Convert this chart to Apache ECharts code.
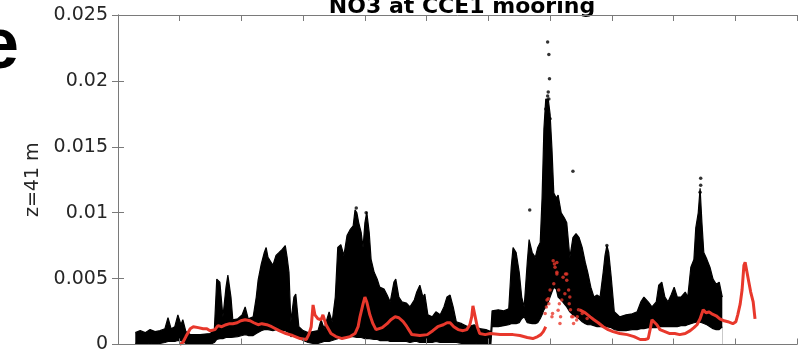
<!DOCTYPE html>
<html>
<head>
<meta charset="utf-8">
<script src="https://cdn.jsdelivr.net/npm/echarts@6/dist/echarts.min.js"></script>
<style>
html,body{margin:0;padding:0;background:#fff;}
#chart{width:805px;height:354px;}
</style>
</head>
<body>
<div id="chart"></div>
<script>
// ---- data (x in years from start of record, y = NO3) ----
const yTicks = [0, 0.005, 0.01, 0.015, 0.02, 0.025];

// black cloud envelope: x, lower edge, upper edge
const blackX = [0.28,0.36,0.44,0.52,0.60,0.68,0.76,0.81,0.86,0.92,0.97,1.02,1.05,1.10,1.17,1.33,1.49,1.56,1.60,1.65,1.70,1.75,1.78,1.83,1.86,1.94,2.01,2.06,2.11,2.19,2.24,2.27,2.32,2.37,2.40,2.43,2.46,2.51,2.56,2.61,2.66,2.71,2.74,2.77,2.80,2.85,2.88,2.93,3.00,3.08,3.16,3.24,3.29,3.34,3.42,3.47,3.52,3.56,3.61,3.66,3.71,3.76,3.81,3.84,3.87,3.90,3.94,3.97,4.00,4.03,4.07,4.10,4.15,4.20,4.24,4.31,4.36,4.41,4.47,4.50,4.55,4.60,4.67,4.73,4.80,4.84,4.89,4.94,4.97,5.02,5.09,5.15,5.22,5.28,5.33,5.38,5.43,5.48,5.57,5.67,5.77,5.86,5.96,6.04,6.06,6.16,6.25,6.33,6.37,6.40,6.45,6.50,6.54,6.58,6.63,6.66,6.71,6.76,6.80,6.84,6.87,6.90,6.93,6.97,7.00,7.03,7.06,7.10,7.13,7.18,7.23,7.27,7.32,7.37,7.42,7.47,7.52,7.57,7.61,7.66,7.71,7.76,7.81,7.86,7.89,7.92,7.95,7.99,8.04,8.13,8.23,8.33,8.41,8.47,8.52,8.59,8.65,8.72,8.76,8.81,8.86,8.91,8.96,9.01,9.06,9.12,9.19,9.23,9.28,9.33,9.36,9.40,9.43,9.46,9.49,9.54,9.59,9.64,9.69,9.74,9.77,9.79];
const blackLow = [0.00008,0,0,0.00008,0,0.00008,0.00015,0.00023,0.00023,0.00023,0.0003,0.0003,0.0003,0.00008,0,0,0,0.00015,0.00038,0.00045,0.00045,0.00053,0.00053,0.00053,0.0006,0.0006,0.00068,0.00075,0.00068,0.00068,0.00083,0.00098,0.00105,0.00113,0.00113,0.00113,0.00105,0.00105,0.00113,0.00113,0.00105,0.00105,0.00098,0.0009,0.0006,0.00068,0.00068,0.00053,0.0003,0.00015,0.00008,0.00008,0.00015,0.00023,0.00023,0.0003,0.00038,0.00045,0.00053,0.00053,0.0006,0.0006,0.0006,0.0006,0.00053,0.00053,0.00053,0.00045,0.00045,0.00045,0.00045,0.00038,0.00038,0.00038,0.0003,0.0003,0.0003,0.00023,0.00023,0.00023,0.00023,0.00023,0.00023,0.00015,0.00023,0.00023,0.00015,0.00015,0.00015,0.00015,0.00015,0.00023,0.00015,0.00015,0.00015,0.00015,0.00015,0.00015,0.00008,0.00008,0.00008,0,0,0,0.00135,0.00135,0.00143,0.0015,0.00158,0.00158,0.00158,0.00165,0.00195,0.0021,0.00165,0.00158,0.00158,0.00158,0.00165,0.00195,0.00225,0.00263,0.00285,0.00323,0.0036,0.00398,0.00435,0.0042,0.0036,0.00338,0.00308,0.00285,0.00248,0.00225,0.0021,0.00195,0.00173,0.00158,0.0015,0.0015,0.00143,0.00135,0.00135,0.00135,0.00135,0.00135,0.00135,0.00128,0.00113,0.00105,0.00105,0.00113,0.00113,0.0012,0.0012,0.00128,0.00128,0.00128,0.00135,0.00135,0.00135,0.00135,0.00135,0.00135,0.00135,0.00143,0.00143,0.0015,0.00158,0.00165,0.00173,0.00173,0.00173,0.00165,0.00158,0.0015,0.00135,0.0012,0.00113,0.00113,0.0012,0.00135];
const blackHigh = [0.0009,0.00105,0.0009,0.00113,0.00098,0.00105,0.0012,0.00203,0.0012,0.00135,0.00225,0.0015,0.00188,0.00098,0.00075,0.00075,0.00083,0.00105,0.00496,0.00473,0.0021,0.00435,0.00526,0.0036,0.00188,0.00195,0.00225,0.00285,0.00195,0.0021,0.0036,0.00488,0.00608,0.00698,0.00736,0.00661,0.00646,0.00601,0.00676,0.00698,0.00721,0.00751,0.00661,0.00548,0.00173,0.0036,0.00383,0.00135,0.00105,0.0009,0.00098,0.00105,0.00188,0.0012,0.00248,0.00173,0.0036,0.00736,0.00758,0.00676,0.00826,0.00871,0.00901,0.01021,0.00999,0.00923,0.00848,0.00736,0.00923,0.01006,0.00848,0.00646,0.00548,0.00496,0.00435,0.0042,0.00375,0.00323,0.00473,0.00496,0.0036,0.00323,0.00315,0.00285,0.00338,0.00398,0.0045,0.0036,0.00383,0.00225,0.0021,0.00248,0.00225,0.00285,0.0036,0.00375,0.00285,0.00173,0.00158,0.00135,0.0015,0.0012,0.00113,0.00098,0.00255,0.00263,0.00255,0.0027,0.00586,0.00736,0.00698,0.00548,0.0036,0.00285,0.00623,0.00796,0.00698,0.00661,0.00736,0.00773,0.01111,0.01637,0.01862,0.01862,0.01749,0.01487,0.01149,0.01111,0.01134,0.00999,0.00961,0.00923,0.00661,0.00811,0.00841,0.00811,0.00736,0.00623,0.00548,0.00435,0.0036,0.00375,0.0036,0.00548,0.00676,0.00751,0.00698,0.00511,0.00248,0.0021,0.00225,0.00233,0.00248,0.00323,0.0036,0.00323,0.00285,0.00323,0.0045,0.00473,0.0036,0.00323,0.00375,0.00435,0.0036,0.0036,0.00398,0.0036,0.00586,0.00646,0.00886,0.00999,0.01186,0.00923,0.00698,0.00646,0.00586,0.00496,0.00458,0.00473,0.00481,0.0036];

// isolated black points above the cloud
const blackDotsX = [6.96,6.98,6.99,6.97,6.96,6.98,6.93,7.00,7.37,6.67,9.44,9.44,9.43,3.86,4.02,7.92];
const blackDotsY = [0.02295,0.0220,0.02017,0.01915,0.01885,0.01862,0.01787,0.01712,0.01314,0.01021,0.01261,0.01209,0.01156,0.01036,0.00999,0.00751];

// red record, first continuous stretch
const red1X = [1.00,1.05,1.10,1.17,1.22,1.30,1.38,1.44,1.49,1.52,1.57,1.62,1.68,1.75,1.81,1.86,1.93,1.99,2.06,2.09,2.14,2.20,2.27,2.33,2.41,2.49,2.61,2.72,2.83,2.95,3.05,3.09,3.13,3.16,3.19,3.24,3.29,3.32,3.37,3.45,3.53,3.63,3.76,3.84,3.89,3.92,3.97,4.00,4.03,4.08,4.13,4.18,4.21,4.28,4.36,4.42,4.49,4.55,4.62,4.68,4.73,4.76,4.89,5.01,5.10,5.18,5.27,5.33,5.38,5.44,5.51,5.59,5.65,5.70,5.73,5.75,5.78,5.82,5.86,5.95,6.03,6.19,6.40,6.51,6.63,6.72,6.80,6.85,6.89,6.92,6.93];
const red1Y = [0,0.00015,0.0006,0.0012,0.00135,0.00128,0.0012,0.0012,0.00105,0.0009,0.00113,0.00143,0.00135,0.0015,0.00158,0.00158,0.00165,0.0018,0.00188,0.00203,0.0018,0.00165,0.0015,0.00158,0.0015,0.00135,0.00105,0.00083,0.00068,0.00045,0.00038,0.00075,0.00135,0.003,0.00225,0.00195,0.00188,0.00225,0.0015,0.00083,0.0006,0.00045,0.0006,0.00083,0.00135,0.0021,0.00308,0.0036,0.00323,0.00225,0.00158,0.00113,0.00098,0.00128,0.00158,0.00188,0.0021,0.00203,0.00173,0.00135,0.00098,0.00075,0.00068,0.00075,0.00105,0.00135,0.0015,0.00165,0.00165,0.00135,0.00113,0.00105,0.00113,0.0015,0.0021,0.00293,0.00225,0.00135,0.00083,0.00075,0.00083,0.00075,0.00075,0.00068,0.00053,0.00045,0.0006,0.00075,0.00098,0.00113,0.00135];
// red record, scattered points around the big peak
const redScatX = [6.92,6.95,6.98,7.00,7.03,7.06,7.07,7.11,7.11,7.14,7.15,7.17,7.19,7.25,7.27,7.30,7.31,7.33,7.35,7.38,7.44,7.46,7.52,7.60,6.94,6.97,7.05,7.08,7.11,7.21,7.27,7.24,7.32,7.37,7.43,7.04,7.13,7.16];
const redScatY = [0.00235,0.00338,0.0031,0.00413,0.0021,0.0046,0.0061,0.00623,0.00535,0.00413,0.0031,0.0021,0.00338,0.00535,0.00488,0.00413,0.0031,0.00263,0.0021,0.0016,0.0021,0.00263,0.00235,0.00197,0.00285,0.00348,0.00636,0.00586,0.00548,0.00511,0.00535,0.00385,0.0036,0.0021,0.00185,0.00235,0.0026,0.0016];
// red record, second continuous stretch
const red2X = [7.48,7.57,7.65,7.71,7.78,7.86,7.94,8.02,8.13,8.25,8.36,8.46,8.54,8.59,8.62,8.65,8.68,8.73,8.78,8.86,8.94,9.02,9.10,9.19,9.27,9.33,9.38,9.43,9.48,9.53,9.57,9.62,9.69,9.75,9.82,9.88,9.96,10.01,10.04,10.08,10.11,10.14,10.16,10.19,10.22,10.25,10.29,10.32];
const red2Y = [0.00263,0.0024,0.0021,0.00188,0.00165,0.00135,0.00113,0.00098,0.00083,0.00075,0.0006,0.00038,0.00038,0.00045,0.00113,0.00188,0.00188,0.0015,0.00113,0.00098,0.00083,0.00083,0.00075,0.00083,0.00105,0.00128,0.0015,0.00195,0.00263,0.0024,0.00248,0.00233,0.00218,0.00195,0.0018,0.00173,0.00158,0.00173,0.00225,0.00308,0.00413,0.00601,0.00623,0.00548,0.00473,0.00398,0.00323,0.00195];

// ---- build ----
const zip = (a, b) => a.map((v, i) => [v, b[i]]);
const RED = '#e8382c';
const AX = '#7a7a7a';
const LBL = '#262626';
const FONT = 'DejaVu Sans';

const chart = echarts.init(document.getElementById('chart'), null, {renderer: 'canvas'});
const tickCommon = {show: true, inside: true, length: 6, lineStyle: {color: AX, width: 1}};
chart.setOption({
  animation: false,
  backgroundColor: '#fff',
  title: {
    text: 'NO3 at CCE1 mooring',
    left: 457, top: -9, textAlign: 'center',
    textStyle: {fontFamily: FONT, fontWeight: 'bold', fontSize: 22, color: '#000'}
  },
  graphic: [{
    type: 'text', x: -21, y: 12,
    style: {text: 'e', font: 'bold 72px "Liberation Sans"', fill: '#000'}
  }],
  grid: {left: 118, right: 8, top: 15, bottom: 6, containLabel: false},
  xAxis: [{
    type: 'value', min: 0, max: 11, interval: 1, position: 'bottom', z: 10,
    axisLine: {show: true, onZero: false, lineStyle: {color: AX, width: 1}},
    axisTick: tickCommon, axisLabel: {show: false}, splitLine: {show: false}
  }, {
    type: 'value', min: 0, max: 11, interval: 1, position: 'top', z: 10,
    axisLine: {show: true, onZero: false, lineStyle: {color: AX, width: 1}},
    axisTick: tickCommon, axisLabel: {show: false}, splitLine: {show: false}
  }],
  yAxis: [{
    type: 'value', min: yTicks[0], max: yTicks[yTicks.length - 1], interval: 0.005, position: 'left', z: 10,
    name: 'z=41 m', nameLocation: 'middle', nameGap: 75, nameRotate: 90,
    nameTextStyle: {fontFamily: FONT, fontSize: 19, color: LBL},
    axisLine: {show: true, lineStyle: {color: AX, width: 1}},
    axisTick: tickCommon,
    axisLabel: {show: true, margin: 10, fontFamily: FONT, fontSize: 19, color: LBL,
      formatter: v => String(+v.toFixed(3))},
    splitLine: {show: false}
  }, {
    type: 'value', min: yTicks[0], max: yTicks[yTicks.length - 1], interval: 0.005, position: 'right', z: 10,
    axisLine: {show: true, lineStyle: {color: AX, width: 1}},
    axisTick: tickCommon, axisLabel: {show: false}, splitLine: {show: false}
  }],
  series: [
    {name: 'NO3 obs', type: 'line', data: zip(blackX, blackHigh), symbol: 'none',
     lineStyle: {color: '#000', width: 1.2}, areaStyle: {color: '#000', opacity: 1, origin: 'start'}, z: 2},
    {name: 'NO3 obs lower edge', type: 'line', data: zip(blackX, blackLow), symbol: 'none', silent: true,
     lineStyle: {color: '#000', width: 1.2}, areaStyle: {color: '#fff', opacity: 1, origin: 'start'}, z: 3},
    {name: 'NO3 obs pts', type: 'scatter', data: zip(blackDotsX, blackDotsY), symbolSize: 3.5,
     itemStyle: {color: '#000'}, z: 4},
    {name: 'red1', type: 'line', data: zip(red1X, red1Y), symbol: 'none',
     lineStyle: {color: RED, width: 3}, z: 5},
    {name: 'red2', type: 'line', data: zip(red2X, red2Y), symbol: 'none',
     lineStyle: {color: RED, width: 3}, z: 5},
    {name: 'redpts', type: 'scatter', data: zip(redScatX, redScatY), symbolSize: 3.5,
     itemStyle: {color: RED}, z: 5}
  ]
});
</script>
</body>
</html>
